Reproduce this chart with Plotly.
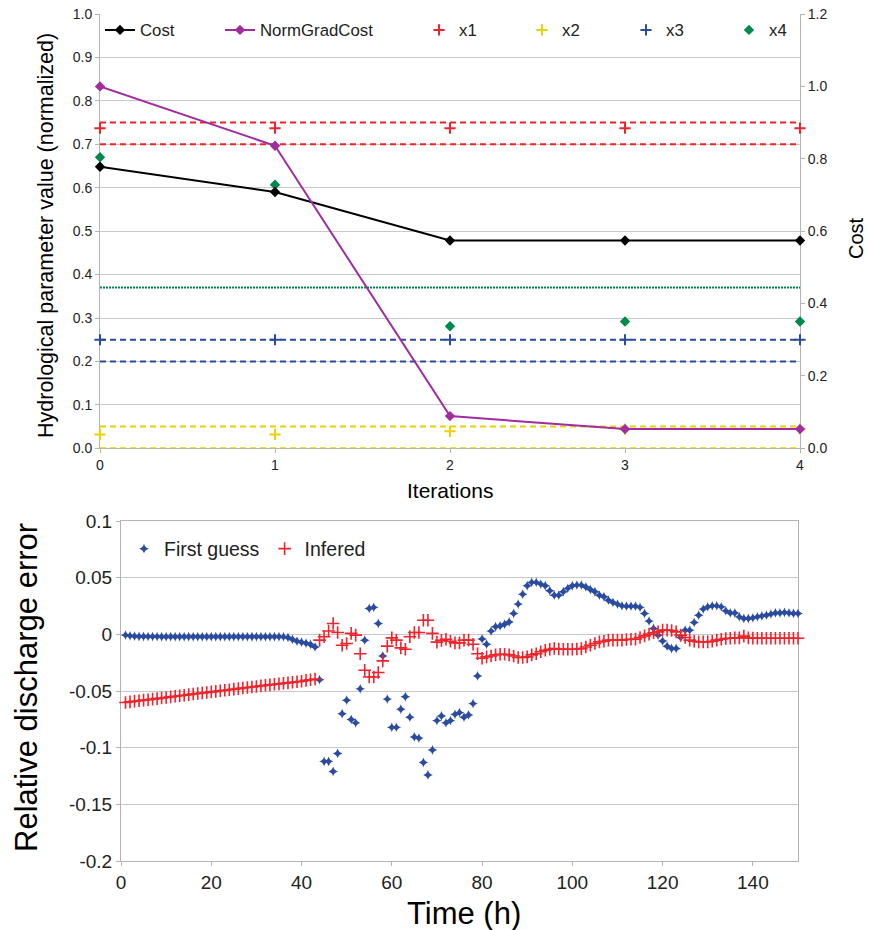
import plotly.graph_objects as go

# ---------------- Top chart data ----------------
iterations = [0, 1, 2, 3, 4]
cost = [0.778, 0.708, 0.574, 0.574, 0.574]
norm_grad_cost = [1.0, 0.836, 0.089, 0.053, 0.053]
x1_vals = [0.737, 0.737, 0.737, 0.737, 0.737]
x2_vals = [0.032, 0.032, 0.039, 0.044, 0.044]
x3_vals = [0.25, 0.25, 0.25, 0.25, 0.25]
x4_vals = [0.670, 0.607, 0.281, 0.292, 0.292]
x1_bounds = [0.70, 0.75]
x2_bounds = [0.0, 0.05]
x3_bounds = [0.20, 0.25]
x4_bounds = [0.37]
bound_x = [0, 4]

# ---------------- Bottom chart data ----------------
hours = list(range(1, 151))
first_guess = [
    -0.0005, -0.0012, -0.0015, -0.0018, -0.0018, -0.0019, -0.0019, -0.0019, -0.0020, -0.0020,
    -0.0020, -0.0020, -0.0020, -0.0020, -0.0020, -0.0020, -0.0020, -0.0020, -0.0020, -0.0020,
    -0.0020, -0.0020, -0.0020, -0.0020, -0.0020, -0.0020, -0.0020, -0.0020, -0.0020, -0.0020,
    -0.0020, -0.0020, -0.0020, -0.0020, -0.0020, -0.0021, -0.0027, -0.0044, -0.0060, -0.0068,
    -0.0077, -0.0088, -0.0110, -0.0400, -0.1120, -0.1120, -0.1210, -0.1050, -0.0700, -0.0580,
    -0.0750, -0.0780, -0.0480, -0.0050, 0.0230, 0.0240, 0.0097, -0.0190, -0.0570, -0.0820,
    -0.0820, -0.0660, -0.0550, -0.0730, -0.0905, -0.0915, -0.1130, -0.1240, -0.1020, -0.0760,
    -0.0720, -0.0780, -0.0760, -0.0705, -0.0690, -0.0730, -0.0710, -0.0610, -0.0366, -0.0040,
    -0.0086, 0.0030, 0.0068, 0.0075, 0.0090, 0.0110, 0.0186, 0.0268, 0.0356, 0.0430,
    0.0460, 0.0460, 0.0445, 0.0430, 0.0386, 0.0347, 0.0347, 0.0377, 0.0407, 0.0430,
    0.0436, 0.0436, 0.0420, 0.0398, 0.0377, 0.0347, 0.0333, 0.0303, 0.0283, 0.0268,
    0.0253, 0.0250, 0.0250, 0.0250, 0.0240, 0.0186, 0.0118, 0.0053, -0.0006, -0.0057,
    -0.0103, -0.0124, -0.0124, -0.0027, 0.0038, 0.0038, 0.0106, 0.0170, 0.0224, 0.0244,
    0.0253, 0.0253, 0.0244, 0.0209, 0.0190, 0.0190, 0.0156, 0.0141, 0.0141, 0.0147,
    0.0156, 0.0164, 0.0170, 0.0180, 0.0190, 0.0190, 0.0195, 0.0190, 0.0186, 0.0186,
]
infered = [
    -0.0600, -0.0595, -0.0590, -0.0585, -0.0580, -0.0576, -0.0571, -0.0566, -0.0561, -0.0556,
    -0.0551, -0.0546, -0.0541, -0.0536, -0.0531, -0.0526, -0.0521, -0.0517, -0.0512, -0.0507,
    -0.0502, -0.0497, -0.0492, -0.0488, -0.0483, -0.0478, -0.0473, -0.0468, -0.0464, -0.0459,
    -0.0454, -0.0449, -0.0445, -0.0440, -0.0436, -0.0431, -0.0427, -0.0422, -0.0418, -0.0413,
    -0.0405, -0.0400, -0.0393, -0.0050, -0.0020, 0.0030, 0.0097, 0.0018, -0.0095, -0.0080,
    0.0010, -0.0006, -0.0170, -0.0316, -0.0375, -0.0375, -0.0336, -0.0233, -0.0103, -0.0030,
    -0.0050, -0.0118, -0.0130, -0.0020, 0.0018, 0.0018, 0.0126, 0.0126, 0.0010, -0.0068,
    -0.0052, -0.0042, -0.0060, -0.0074, -0.0074, -0.0050, -0.0050, -0.0086, -0.0170, -0.0210,
    -0.0198, -0.0190, -0.0180, -0.0174, -0.0174, -0.0180, -0.0190, -0.0204, -0.0204, -0.0198,
    -0.0180, -0.0170, -0.0153, -0.0139, -0.0130, -0.0124, -0.0128, -0.0130, -0.0130, -0.0130,
    -0.0128, -0.0125, -0.0110, -0.0095, -0.0080, -0.0065, -0.0060, -0.0050, -0.0050, -0.0050,
    -0.0050, -0.0045, -0.0042, -0.0041, -0.0027, -0.0012, 0.0003, 0.0015, 0.0023, 0.0038,
    0.0038, 0.0035, 0.0023, -0.0006, -0.0027, -0.0050, -0.0060, -0.0065, -0.0065, -0.0065,
    -0.0060, -0.0050, -0.0042, -0.0036, -0.0033, -0.0030, -0.0030, -0.0015, -0.0030, -0.0032,
    -0.0033, -0.0033, -0.0034, -0.0034, -0.0034, -0.0034, -0.0034, -0.0034, -0.0034, -0.0034,
]
err_tickvals = [0.1, 0.05, 0, -0.05, -0.1, -0.15, -0.2]
err_ticktext = ["0.1", "0.05", "0", "-0.05", "-0.1", "-0.15", "-0.2"]

# ---------------- Styles ----------------
FONT = "Liberation Sans"
RED = "#f0232b"
YEL = "#e8d200"
BLU = "#2a4b9f"
GRN = "#00894c"
PUR = "#a02ca0"
GRID = "#c8c8c8"
AXL = "#b3b3b3"
TXT = "#222222"
W, H = 870, 930

fig = go.Figure()

# bound lines (top chart)
for vals, col, dash in [(x1_bounds, RED, "6px,4px"), (x2_bounds, YEL, "6px,4px"),
                        (x3_bounds, BLU, "6px,4px"), (x4_bounds, GRN, "2px,1px")]:
    for v in vals:
        fig.add_trace(go.Scatter(x=bound_x, y=[v, v], mode="lines", xaxis="x", yaxis="y",
                                 line=dict(color=col, width=2, dash=dash),
                                 showlegend=False, hoverinfo="skip", cliponaxis=False))

# parameter markers
fig.add_trace(go.Scatter(x=iterations, y=x1_vals, name="x1", mode="markers", xaxis="x", yaxis="y",
                         marker=dict(symbol="cross-thin", size=8, line=dict(color=RED, width=2)),
                         cliponaxis=False, legend="legend3"))
fig.add_trace(go.Scatter(x=iterations, y=x2_vals, name="x2", mode="markers", xaxis="x", yaxis="y",
                         marker=dict(symbol="cross-thin", size=8, line=dict(color=YEL, width=2)),
                         cliponaxis=False, legend="legend4"))
fig.add_trace(go.Scatter(x=iterations, y=x3_vals, name="x3", mode="markers", xaxis="x", yaxis="y",
                         marker=dict(symbol="cross-thin", size=8, line=dict(color=BLU, width=2)),
                         cliponaxis=False, legend="legend5"))
fig.add_trace(go.Scatter(x=iterations, y=x4_vals, name="x4", mode="markers", xaxis="x", yaxis="y",
                         marker=dict(symbol="diamond", size=8, color=GRN),
                         cliponaxis=False, legend="legend6"))

# cost lines (right axis)
fig.add_trace(go.Scatter(x=iterations, y=cost, name="Cost", mode="lines+markers", xaxis="x", yaxis="y2",
                         line=dict(color="#000000", width=2),
                         marker=dict(symbol="diamond", size=8, color="#000000"),
                         cliponaxis=False, legend="legend"))
fig.add_trace(go.Scatter(x=iterations, y=norm_grad_cost, name="NormGradCost", mode="lines+markers",
                         xaxis="x", yaxis="y2",
                         line=dict(color=PUR, width=2),
                         marker=dict(symbol="diamond", size=8, color=PUR),
                         cliponaxis=False, legend="legend2"))

# bottom chart
fig.add_trace(go.Scatter(x=hours, y=first_guess, name="First guess", mode="markers", xaxis="x2", yaxis="y3",
                         marker=dict(symbol="star-diamond", size=7, color=BLU),
                         cliponaxis=False, legend="legend7"))
fig.add_trace(go.Scatter(x=hours, y=infered, name="Infered", mode="markers", xaxis="x2", yaxis="y3",
                         marker=dict(symbol="cross-thin", size=9, line=dict(color=RED, width=1.6)),
                         cliponaxis=False, legend="legend7"))


def px_x(p):
    return p / W


def px_y(p):
    return 1 - p / H


axis_common = dict(showline=True, linecolor=AXL, linewidth=1, ticks="outside", ticklen=4,
                   tickcolor=AXL, zeroline=False, layer="below traces")


def tf(size):
    return dict(family=FONT, size=size, color=TXT)


def leg(xp, yp, size):
    return dict(x=px_x(xp), y=px_y(yp), xanchor="left", yanchor="middle", orientation="h",
                bgcolor="rgba(0,0,0,0)", borderwidth=0,
                font=dict(family=FONT, size=size, color=TXT))


fig.update_layout(
    width=W, height=H, margin=dict(l=0, r=0, t=0, b=0, autoexpand=False),
    paper_bgcolor="white", plot_bgcolor="white",
    font=dict(family=FONT, color=TXT),
    xaxis=dict(domain=[px_x(100), px_x(800)], range=[0, 4], dtick=1, showgrid=False,
               anchor="y", tickfont=tf(14), **axis_common),
    yaxis=dict(domain=[px_y(448.3), px_y(14)], range=[0, 1], dtick=0.1, tickformat=".1f",
               showgrid=True, gridcolor=GRID, anchor="x", tickfont=tf(14), **axis_common),
    yaxis2=dict(overlaying="y", side="right", range=[0, 1.2], dtick=0.2, tickformat=".1f",
                showgrid=False, anchor="x", tickfont=tf(14), **axis_common),
    xaxis2=dict(domain=[px_x(121), px_x(798)], range=[0, 150], tickvals=[0, 20, 40, 60, 80, 100, 120, 140],
                showgrid=False, anchor="y3", mirror=True, tickfont=tf(19), **axis_common),
    yaxis3=dict(domain=[px_y(861), px_y(521.2)], range=[-0.2, 0.1], tickvals=err_tickvals,
                ticktext=err_ticktext, showgrid=True, gridcolor=GRID, anchor="x2", mirror=True,
                tickfont=tf(19), **axis_common),
    legend=leg(100, 30, 16.8),
    legend2=leg(220, 30, 16.8),
    legend3=leg(419, 30, 16.8),
    legend4=leg(522, 30, 16.8),
    legend5=leg(626, 30, 16.8),
    legend6=leg(729, 30, 16.8),
    legend7=leg(124, 549, 19.5),
    showlegend=True,
)

annotations = [
    dict(text="Hydrological parameter value (normalized)", x=px_x(46), y=px_y(236), textangle=-90,
         font=dict(family=FONT, size=21.5, color="#000")),
    dict(text="Cost", x=px_x(856), y=px_y(238), textangle=-90, font=dict(family=FONT, size=20, color="#000")),
    dict(text="Iterations", x=px_x(450), y=px_y(490), font=dict(family=FONT, size=21, color="#000")),
    dict(text="Relative discharge error", x=px_x(26), y=px_y(688), textangle=-90,
         font=dict(family=FONT, size=31, color="#000")),
    dict(text="Time (h)", x=px_x(464), y=px_y(913), font=dict(family=FONT, size=31, color="#000")),
]
for a in annotations:
    a.update(xref="paper", yref="paper", showarrow=False, xanchor="center", yanchor="middle")
fig.update_layout(annotations=annotations)

fig.write_html("out.html")
